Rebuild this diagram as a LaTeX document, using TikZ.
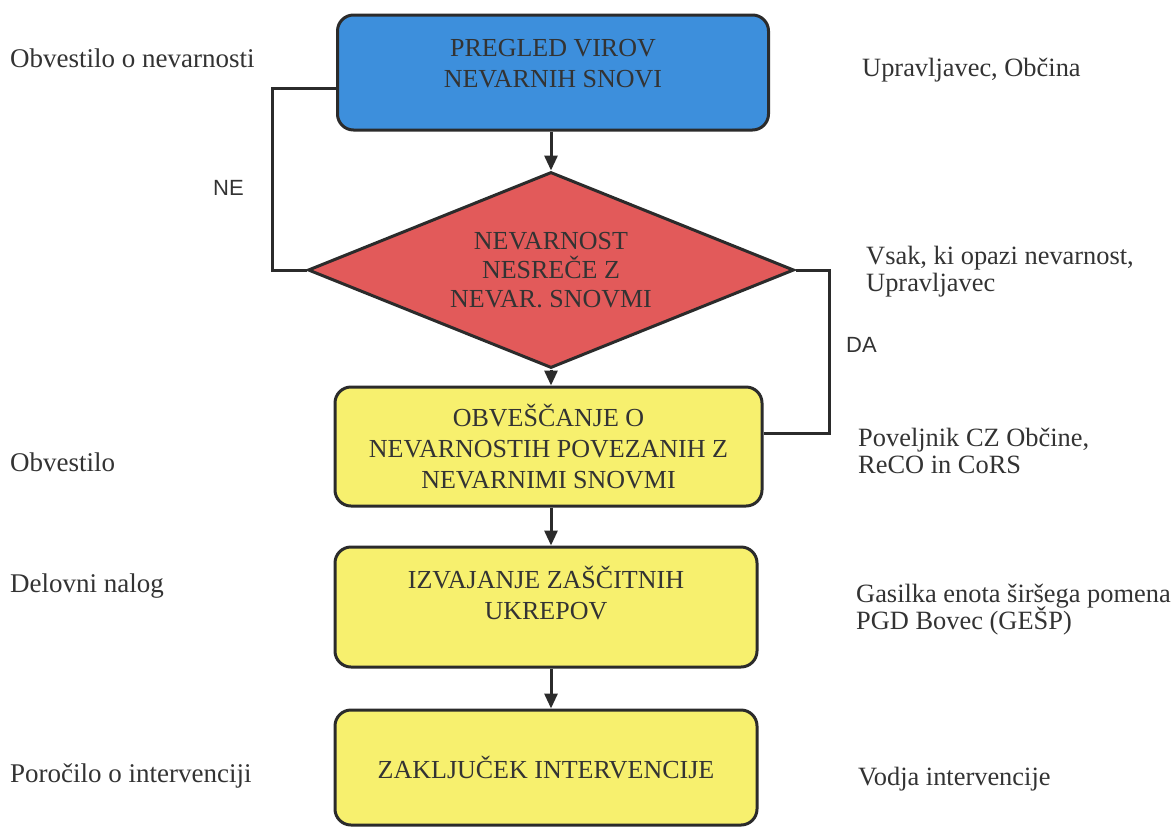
\documentclass[tikz,border=0pt]{standalone}
\usepackage{fontspec}
\setmainfont{Liberation Serif}
\newfontfamily\labsans{Liberation Sans}
\usetikzlibrary{arrows.meta,shapes.geometric}
\definecolor{boxblue}{HTML}{3D8FDC}
\definecolor{boxred}{HTML}{E25A5A}
\definecolor{boxyellow}{HTML}{F7F06E}
\definecolor{linegray}{HTML}{2B2B2B}
\definecolor{textgray}{HTML}{333333}
\tikzset{
  flowbox/.style={draw=linegray, line width=3pt, rounded corners=16pt, align=center,
    text=textgray, inner sep=0pt, font=\fontsize{26}{31}\selectfont},
  decbox/.style={diamond, aspect=2.48, draw=linegray, line width=3pt, fill=boxred, align=center,
    text=textgray, inner sep=0pt, font=\fontsize{26}{29}\selectfont},
  sidelab/.style={anchor=base west, inner sep=0pt, text=textgray, align=left,
    font=\fontsize{27}{27}\selectfont, execute at begin node={\lineskiplimit=-20pt}},
  rightlab/.style={sidelab, font=\fontsize{26.4}{27}\selectfont},
  yesno/.style={anchor=base west, inner sep=0pt, text=textgray, font=\labsans\fontsize{22}{24}\selectfont},
  flowline/.style={draw=linegray, line width=3pt},
  flowarrow/.style={flowline, -{Triangle[length=15pt,width=13pt]}}
}
\begin{document}
\begin{tikzpicture}[x=1pt,y=-1pt]
\useasboundingbox (0,0) rectangle (1174,828);
\fill[white] (0,0) rectangle (1174,828);

\node[flowbox, fill=boxblue, minimum width=431pt, minimum height=115pt] (blue) at (553,72.5)
  {PREGLED VIROV\\NEVARNIH SNOVI\rule[-19pt]{0pt}{0pt}};
\node[decbox, minimum width=486pt, minimum height=196pt] (dia) at (551,270)
  {NEVARNOST\\NESREČE Z\\NEVAR. SNOVMI};
\node[flowbox, fill=boxyellow, minimum width=427pt, minimum height=119pt] (y1) at (548.5,446.5)
  {OBVEŠČANJE O\\NEVARNOSTIH POVEZANIH Z\\NEVARNIMI SNOVMI};
\node[flowbox, fill=boxyellow, minimum width=422pt, minimum height=120pt] (y2) at (546,607)
  {IZVAJANJE ZAŠČITNIH\\UKREPOV\rule[-28pt]{0pt}{0pt}};
\node[flowbox, fill=boxyellow, minimum width=422pt, minimum height=115pt] (y3) at (546,767.5)
  {ZAKLJUČEK INTERVENCIJE};

\draw[flowarrow] (blue.south -| dia.north) -- (dia.north);
\draw[flowarrow] (dia.south) -- (dia.south |- y1.north);
\draw[flowarrow] (y1.south -| dia.south) -- (dia.south |- y2.north);
\draw[flowarrow] (y2.south -| dia.south) -- (dia.south |- y3.north);

\coordinate (ne) at (272,88);
\draw[flowline] (dia.west) -| (ne) -- (ne -| blue.west);
\coordinate (da) at (829,433);
\draw[flowline] (dia.east) -| (da) -- (da -| y1.east);

\node[yesno] (nelab) at (213,195) {NE};
\node[yesno] (dalab) at (846,352) {DA};

\node[sidelab] (l1) at (10,67) {Obvestilo o nevarnosti};
\node[sidelab] (l2) at (10,471) {Obvestilo};
\node[sidelab] (l3) at (10,592) {Delovni nalog};
\node[sidelab] (l4) at (10,782) {Poročilo o intervenciji};

\node[rightlab] (r1) at (862,76) {Upravljavec, Občina};
\node[rightlab] (r2) at (866,291) {Vsak, ki opazi nevarnost,\\Upravljavec};
\node[rightlab] (r3) at (858,473) {Poveljnik CZ Občine,\\ReCO in CoRS};
\node[rightlab] (r4) at (856,629) {Gasilka enota širšega pomena\\PGD Bovec (GEŠP)};
\node[rightlab] (r5) at (858,785) {Vodja intervencije};
\end{tikzpicture}
\end{document}
